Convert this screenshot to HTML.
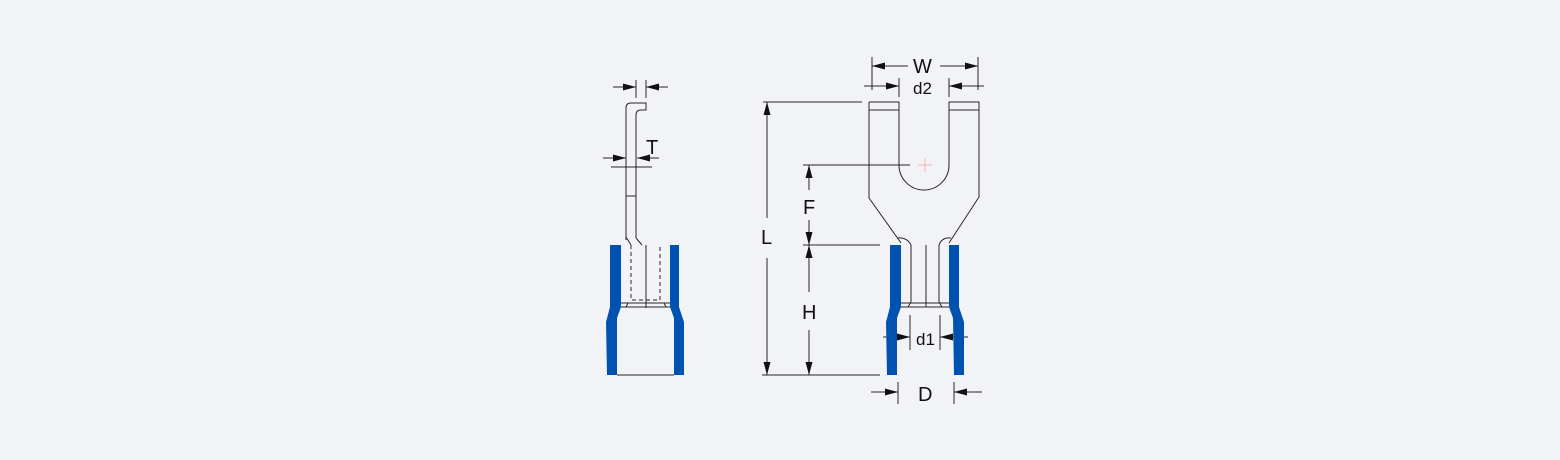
<!DOCTYPE html>
<html><head><meta charset="utf-8"><style>
html,body{margin:0;padding:0;background:#f2f3f7;}
svg{display:block;}
text{font-family:"Liberation Sans",sans-serif;fill:#111;}
</style></head><body>
<svg width="1560" height="460" viewBox="0 0 1560 460" xmlns="http://www.w3.org/2000/svg">
<defs>
<marker id="a" markerWidth="14" markerHeight="10" refX="13" refY="5" orient="auto" markerUnits="userSpaceOnUse">
<path d="M0,1.5 L13,5 L0,8.5 Z" fill="#111"/></marker>
</defs>
<rect width="1560" height="460" fill="#f2f3f7"/>
<g fill="none" stroke="#2a2424" stroke-width="1">
<path d="M626,240 L626,108 Q626,103 631,103 L646,103 L646,110 L641,110 Q636,110 636,115 L636,238"/>
<line x1="626" y1="196" x2="636" y2="196"/>
<path d="M626,237 L631,245 M636,238 L642,245"/>
<path d="M631,245 L631,300 L660,300 L660,245" stroke-dasharray="4,3"/>
<line x1="646" y1="245" x2="646" y2="308"/>
<line x1="621" y1="303" x2="670" y2="303"/>
<line x1="621" y1="307" x2="670" y2="307"/>
<path d="M628,303 L626,307 M664,303 L666,307"/>
<line x1="617" y1="375" x2="674" y2="375"/>
<line x1="636" y1="80" x2="636" y2="98"/>
<line x1="646" y1="80" x2="646" y2="98"/>
<line x1="613" y1="87" x2="636" y2="87" marker-end="url(#a)"/>
<line x1="668" y1="87" x2="646" y2="87" marker-end="url(#a)"/>
<line x1="603" y1="158" x2="626" y2="158" marker-end="url(#a)"/>
<line x1="659" y1="158" x2="637" y2="158" marker-end="url(#a)"/>
<line x1="611" y1="167" x2="652" y2="167"/>
<path d="M869,102 L899,102 L899,165 A25,25 0 0 0 949,165 L949,102 L979,102 L979,197 L949,243"/>
<path d="M869,102 L869,198 L901,243"/>
<line x1="869" y1="110" x2="899" y2="110"/>
<line x1="949" y1="110" x2="979" y2="110"/>
<path d="M897,238 Q907,237 911,245 L911,302 M951,238 Q942,237 939,245 L939,302"/>
<line x1="926" y1="245" x2="926" y2="307"/>
<line x1="901" y1="303" x2="949" y2="303"/>
<line x1="901" y1="307" x2="949" y2="307"/>
<path d="M911,302 L908,307 M939,302 L942,307"/>
<line x1="763" y1="102" x2="862" y2="102"/>
<line x1="762" y1="375" x2="880" y2="375"/>
<line x1="803" y1="165" x2="910" y2="165"/>
<line x1="803" y1="245" x2="880" y2="245"/>
<line x1="767" y1="218" x2="767" y2="102" marker-end="url(#a)"/>
<line x1="767" y1="258" x2="767" y2="375" marker-end="url(#a)"/>
<line x1="809" y1="190" x2="809" y2="165" marker-end="url(#a)"/>
<line x1="809" y1="220" x2="809" y2="245" marker-end="url(#a)"/>
<line x1="809" y1="292" x2="809" y2="245" marker-end="url(#a)"/>
<line x1="809" y1="330" x2="809" y2="375" marker-end="url(#a)"/>
<line x1="872" y1="57" x2="872" y2="90"/>
<line x1="978" y1="57" x2="978" y2="90"/>
<line x1="908" y1="66" x2="872" y2="66" marker-end="url(#a)"/>
<line x1="940" y1="66" x2="978" y2="66" marker-end="url(#a)"/>
<line x1="899" y1="78" x2="899" y2="97"/>
<line x1="949" y1="78" x2="949" y2="97"/>
<line x1="864" y1="86" x2="899" y2="86" marker-end="url(#a)"/>
<line x1="984" y1="86" x2="949" y2="86" marker-end="url(#a)"/>
<line x1="910" y1="315" x2="910" y2="350"/>
<line x1="940" y1="315" x2="940" y2="350"/>
<line x1="883" y1="337" x2="910" y2="337" marker-end="url(#a)"/>
<line x1="968" y1="337" x2="940" y2="337" marker-end="url(#a)"/>
<line x1="898" y1="382" x2="898" y2="404"/>
<line x1="954" y1="382" x2="954" y2="404"/>
<line x1="871" y1="392" x2="898" y2="392" marker-end="url(#a)"/>
<line x1="982" y1="392" x2="954" y2="392" marker-end="url(#a)"/>
</g>
<g stroke="#f4a0a8" stroke-width="0.8">
<line x1="918" y1="165" x2="932" y2="165"/><line x1="925" y1="158" x2="925" y2="172"/>
</g>
<g fill="#0052b0">
<path d="M610,245 L621,245 L621,307 L617,318 L617,375 L607,375 L606,322 L610,307 Z"/>
<path d="M670,245 L679,245 L679,307 L684,322 L684,375 L674,375 L674,318 L670,307 Z"/>
<path d="M890,245 L901,245 L901,307 L897,318 L897,375 L887,375 L886,322 L890,307 Z"/>
<path d="M949,245 L959,245 L959,307 L964,322 L964,375 L954,375 L953,318 L949,307 Z"/>
</g>
<text x="646" y="154" font-size="20">T</text>
<text x="913" y="73" font-size="20">W</text>
<text x="913" y="94" font-size="17">d2</text>
<text x="761" y="244" font-size="20">L</text>
<text x="803" y="214" font-size="20">F</text>
<text x="802" y="319" font-size="20">H</text>
<text x="916" y="345" font-size="17">d1</text>
<text x="918" y="401" font-size="20">D</text>
</svg>
</body></html>
